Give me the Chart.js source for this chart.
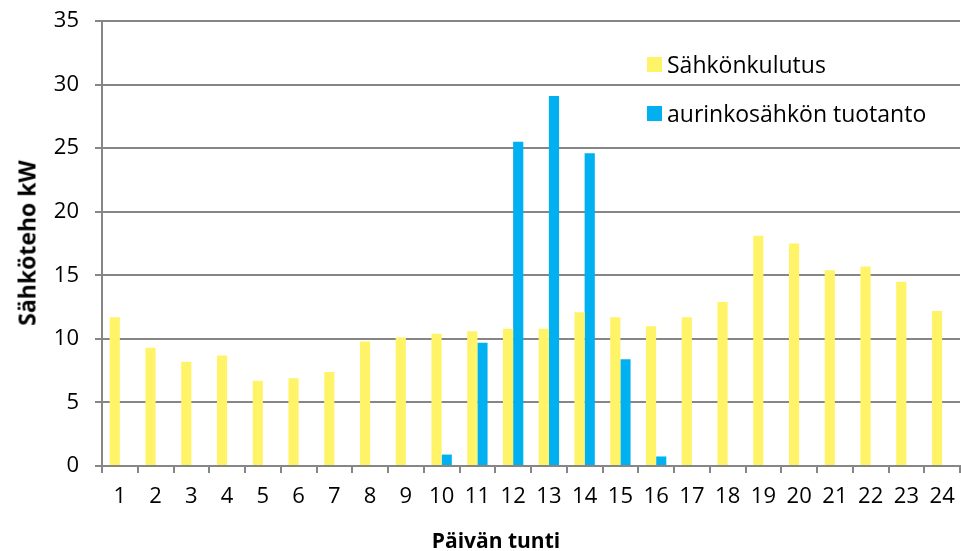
<!DOCTYPE html>
<html>
<head>
<meta charset="utf-8">
<script src="https://cdn.jsdelivr.net/npm/chart.js@4"></script>
<style>
  body { margin: 0; background: #fff; }
  #wrap { position: relative; width: 961px; height: 551px; font-family: "Open Sans", sans-serif; color: #000; }
  .legend-item { position: absolute; left: 647px; height: 28px; display: flex; align-items: center; font-size: 23px; white-space: nowrap; }
  .legend-item span.box { display: inline-block; width: 15px; height: 15px; margin-right: 5px; }
  .axis-title { position: absolute; font-weight: bold; white-space: nowrap; line-height: 1; }
  #xtitle { left: 496px; top: 530px; font-size: 21px; transform: translateX(-50%); }
  #ytitle { left: 27px; top: 243px; font-size: 23px; transform: translate(-50%, -50%) rotate(-90deg); }
</style>
</head>
<body>
<div id="wrap">
  <canvas id="chart" width="961" height="551"></canvas>
  <div id="legend"></div>
  <div class="axis-title" id="xtitle">Päivän tunti</div>
  <div class="axis-title" id="ytitle">Sähköteho kW</div>
</div>
<script>
const hours = ["1","2","3","4","5","6","7","8","9","10","11","12","13","14","15","16","17","18","19","20","21","22","23","24"];
const consumption = [11.7, 9.3, 8.2, 8.7, 6.7, 6.9, 7.4, 9.8, 10.1, 10.4, 10.6, 10.8, 10.8, 12.1, 11.7, 11.0, 11.7, 12.9, 18.1, 17.5, 15.4, 15.7, 14.5, 12.2];
const solar = [0, 0, 0, 0, 0, 0, 0, 0, 0, 0.9, 9.7, 25.5, 29.1, 24.6, 8.4, 0.75, 0, 0, 0, 0, 0, 0, 0, 0];
const seriesNames = ["Sähkönkulutus", "aurinkosähkön tuotanto"];
const seriesColors = ["#FFF467", "#00B0F0"];

const FONT = "'Open Sans', sans-serif";
const GRID = "#868686";

const ctx = document.getElementById("chart").getContext("2d");
const chart = new Chart(ctx, {
    type: "bar",
    data: {
        labels: hours,
        datasets: [
            { label: seriesNames[0], data: consumption, backgroundColor: seriesColors[0] },
            { label: seriesNames[1], data: solar, backgroundColor: seriesColors[1] }
        ]
    },
    options: {
        responsive: false,
        animation: false,
        layout: { padding: { top: 21, right: 1, left: 0, bottom: 0 } },
        datasets: { bar: { barPercentage: 1.0, categoryPercentage: 0.57 } },
        scales: {
            x: {
                grid: { drawOnChartArea: false, drawTicks: true, tickLength: 7, color: GRID, lineWidth: 2 },
                border: { display: true, color: GRID, width: 2 },
                ticks: { color: "#000", font: { family: FONT, size: 22 }, padding: 11, maxRotation: 0 },
                afterFit: s => { s.height = 85; s.paddingLeft = 0; s.paddingRight = 0; }
            },
            y: {
                min: 0,
                max: 35,
                ticks: { stepSize: 5, color: "#000", font: { family: FONT, size: 22 }, padding: 16 },
                grid: { color: GRID, lineWidth: 2, tickLength: 7 },
                border: { display: true, color: GRID, width: 2 },
                afterFit: s => { s.width = 102; s.paddingTop = 0; s.paddingBottom = 0; }
            }
        },
        plugins: {
            legend: { display: false },
            tooltip: { enabled: false }
        }
    }
});

const legend = document.getElementById("legend");
legend.innerHTML = seriesNames.map((name, i) =>
    `<div class="legend-item" style="top:${50 + i * 49}px"><span class="box" style="background:${seriesColors[i]}"></span>${name}</div>`).join('');
</script>
</body>
</html>
